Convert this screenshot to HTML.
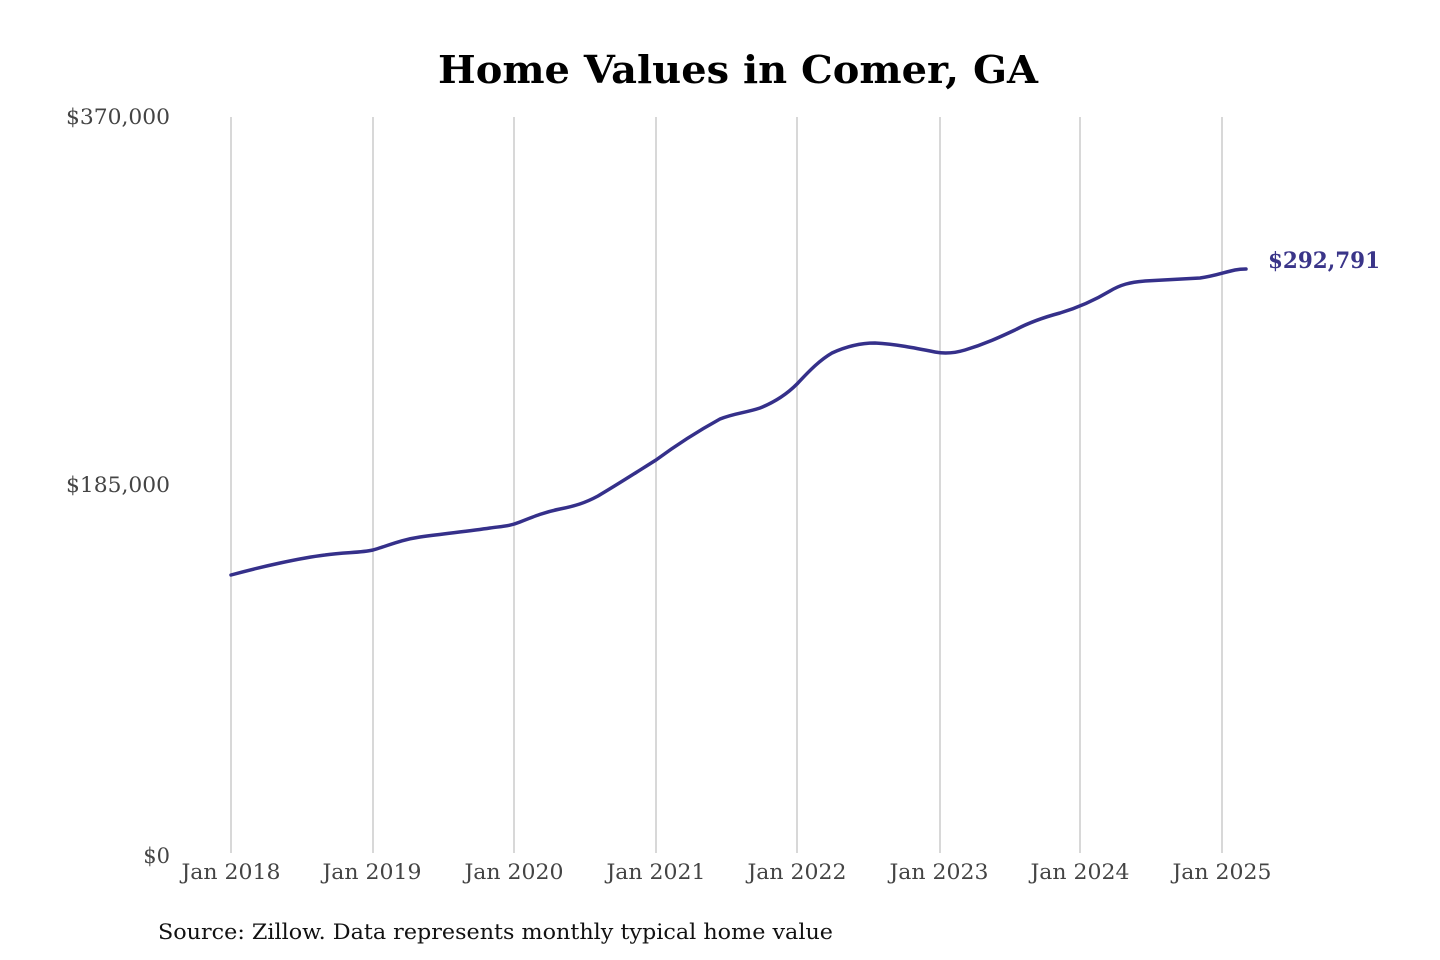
<!DOCTYPE html>
<html><head><meta charset="utf-8"><style>
html,body{margin:0;padding:0;background:#fff;}
svg{display:block;}
</style></head><body>
<svg width="1440" height="960" viewBox="0 0 1440 960" xmlns="http://www.w3.org/2000/svg">
<rect width="1440" height="960" fill="#fff"/>
<text x="738" y="83" text-anchor="middle" font-family="DejaVu Serif, Liberation Serif, serif" font-weight="bold" font-size="38" textLength="600" lengthAdjust="spacingAndGlyphs" fill="#000">Home Values in Comer, GA</text>
<g stroke="#c4c4c4" stroke-width="1.3">
<line x1="231" y1="117" x2="231" y2="853"/>
<line x1="373" y1="117" x2="373" y2="853"/>
<line x1="514" y1="117" x2="514" y2="853"/>
<line x1="656" y1="117" x2="656" y2="853"/>
<line x1="797" y1="117" x2="797" y2="853"/>
<line x1="940" y1="117" x2="940" y2="853"/>
<line x1="1080" y1="117" x2="1080" y2="853"/>
<line x1="1222" y1="117" x2="1222" y2="853"/>
</g>
<g font-family="DejaVu Serif, Liberation Serif, serif" font-size="21" fill="#444">
<text x="170" y="124" text-anchor="end" textLength="104" lengthAdjust="spacingAndGlyphs">$370,000</text>
<text x="170" y="492" text-anchor="end" textLength="104" lengthAdjust="spacingAndGlyphs">$185,000</text>
<text x="170" y="863" text-anchor="end">$0</text>
<g text-anchor="middle">
<text x="231" y="879" textLength="99" lengthAdjust="spacingAndGlyphs">Jan 2018</text>
<text x="372" y="879" textLength="99" lengthAdjust="spacingAndGlyphs">Jan 2019</text>
<text x="514" y="879" textLength="99" lengthAdjust="spacingAndGlyphs">Jan 2020</text>
<text x="656" y="879" textLength="99" lengthAdjust="spacingAndGlyphs">Jan 2021</text>
<text x="797" y="879" textLength="99" lengthAdjust="spacingAndGlyphs">Jan 2022</text>
<text x="939" y="879" textLength="99" lengthAdjust="spacingAndGlyphs">Jan 2023</text>
<text x="1080" y="879" textLength="99" lengthAdjust="spacingAndGlyphs">Jan 2024</text>
<text x="1222" y="879" textLength="99" lengthAdjust="spacingAndGlyphs">Jan 2025</text>
</g>
</g>
<path d="M231,575 C260,567 300,558 325,555 C345,552 360,553 373,550 C390,545 400,540 420,537 C450,533 470,531 490,528 C505,526 510,526 520,522 C535,516 545,512 560,509 C575,506 585,503 598,496 C620,483 640,470 656,460 C675,446 700,430 720,419 C735,413 745,413 760,408 C775,402 788,393 797,384 C810,370 820,360 832,353 C845,347 860,343 875,343 C895,344 915,348 935,352 C945,354 955,353 965,350 C985,344 1000,337 1015,330 C1030,322 1045,317 1060,313 C1080,307 1095,300 1110,291 C1120,285 1130,282 1145,281 C1165,280 1180,279 1200,278 C1215,276 1225,272 1235,270 C1240,269 1243,269 1246,269" fill="none" stroke="#35308a" stroke-width="3.5" stroke-linecap="round" stroke-linejoin="round"/>
<text x="1268" y="268" font-family="DejaVu Serif, Liberation Serif, serif" font-weight="bold" font-size="22" fill="#3a3589" textLength="112" lengthAdjust="spacingAndGlyphs">$292,791</text>
<text x="158" y="939" font-family="DejaVu Serif, Liberation Serif, serif" font-size="21" fill="#111" textLength="675" lengthAdjust="spacingAndGlyphs">Source: Zillow. Data represents monthly typical home value</text>
</svg>
</body></html>
